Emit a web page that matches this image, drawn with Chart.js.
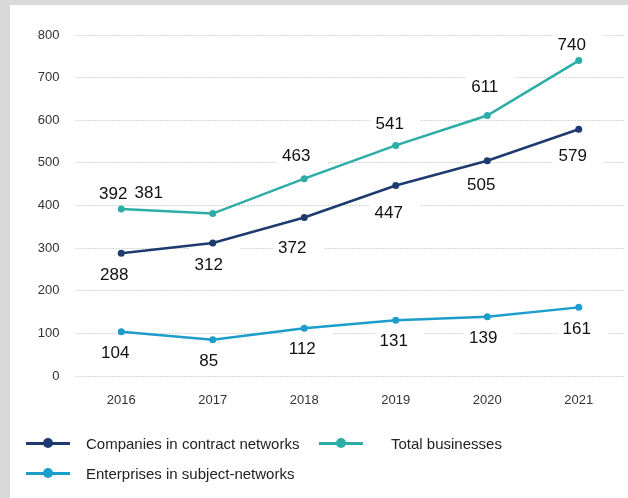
<!DOCTYPE html>
<html>
<head>
<meta charset="utf-8">
<title>Network businesses 2016-2021</title>
<script src="https://cdn.jsdelivr.net/npm/chart.js@4/dist/chart.umd.min.js"></script>
<style>
  html,body{margin:0;padding:0;background:#d9d9d9;}
  body{width:628px;height:498px;overflow:hidden;position:relative;font-family:Helvetica,Arial,"Liberation Sans",sans-serif;}
  #panel{position:absolute;left:10px;top:5px;width:618px;height:493px;background:#fff;}
  #chart{position:absolute;left:0;top:0;}
  .item{position:absolute;height:20px;display:flex;align-items:center;font-size:15px;color:#222;white-space:nowrap;}
  .swatch{position:relative;width:44px;height:20px;flex:none;}
  .swatch .ln{position:absolute;left:0;right:0;top:8.5px;height:3px;}
  .swatch .dot{position:absolute;left:17px;top:5px;width:10px;height:10px;border-radius:50%;}
</style>
</head>
<body>
<div id="panel">
  <canvas id="chart" width="618" height="493"></canvas>
  <div id="legend"></div>
</div>
<script>
// years on the x axis
const years=['2016','2017','2018','2019','2020','2021'];
// series values
const contractNetworks=[288,312,372,447,505,579];
const totalBusinesses=[392,381,463,541,611,740];
const subjectNetworks=[104,85,112,131,139,161];
// y axis ticks
const yTicks=[0,100,200,300,400,500,600,700,800];

// where each value label sits relative to its point (dx, dy)
const totalShift=[[-8,-15],[-64,-20],[-8,-22],[-6,-21],[-2.5,-28],[-7,-15]];
const contractShift=[[-7,22],[-4,22],[-12,31],[-7,28],[-6,25],[-6,27.5]];
const subjectShift=[[-6,22],[-4,22],[-2,21],[-2,21.5],[-4,21.5],[-2,22]];

const FONT='Helvetica, Arial, "Liberation Sans", sans-serif';

function series(label,data,color,shift){
  return {label,data,borderColor:color,backgroundColor:color,borderWidth:2.5,
    pointRadius:3.5,pointHoverRadius:3.5,pointBorderWidth:0,pointBackgroundColor:color,
    tension:0,fill:false,labelShift:shift};
}

// white box behind each value label (hides the grid), then the number
const valueLabels={
  id:'valueLabels',
  eachLabel(chart,fn){
    const ctx=chart.ctx;
    ctx.save();
    ctx.font='17px '+FONT;
    chart.data.datasets.forEach((ds,di)=>{
      const meta=chart.getDatasetMeta(di);
      meta.data.forEach((pt,i)=>{
        const s=ds.labelShift[i];
        const txt=String(ds.data[i]);
        fn(ctx,txt,pt.x+s[0],pt.y+s[1],ctx.measureText(txt).width);
      });
    });
    ctx.restore();
  },
  beforeDatasetsDraw(chart){
    this.eachLabel(chart,(ctx,txt,x,y,w)=>{
      ctx.fillStyle='#fff';
      ctx.fillRect(x-w/2-5,y-17,w+22,26);
    });
  },
  afterDatasetsDraw(chart){
    this.eachLabel(chart,(ctx,txt,x,y)=>{
      ctx.fillStyle='#111';
      ctx.textAlign='center';
      ctx.textBaseline='middle';
      ctx.fillText(txt,x,y);
    });
  }
};

const chart=new Chart(document.getElementById('chart'),{
  type:'line',
  data:{
    labels:years,
    datasets:[
      series('Companies in contract networks',contractNetworks,'#1d3b6f',contractShift),
      series('Total businesses',totalBusinesses,'#2cada6',totalShift),
      series('Enterprises in subject-networks',subjectNetworks,'#1d9dcb',subjectShift)
    ]
  },
  options:{
    responsive:false,
    animation:false,
    layout:{padding:{top:30,left:0,right:0,bottom:92}},
    plugins:{legend:{display:false},tooltip:{enabled:false}},
    scales:{
      x:{
        offset:true,
        grid:{display:false},
        border:{display:false},
        ticks:{color:'#333',font:{family:FONT,size:13},padding:9,maxRotation:0},
        afterFit(s){s.height=30;}
      },
      y:{
        min:yTicks[0],max:yTicks[yTicks.length-1],
        afterBuildTicks(s){s.ticks=yTicks.map(v=>({value:v}));},
        grid:{color:'#d6d6d6',lineWidth:1,drawTicks:false},
        border:{display:false,dash:[2,1]},
        ticks:{color:'#333',font:{family:FONT,size:13},padding:16},
        afterFit(s){s.width=65.5;}
      }
    }
  },
  plugins:[valueLabels]
});

// legend in two columns, built from the datasets
const legendSpots=[{x:16,y:428,gap:16},{x:309,y:428,gap:28},{x:16,y:458,gap:16}];
const legend=document.getElementById('legend');
chart.data.datasets.forEach((ds,i)=>{
  const p=legendSpots[i];
  const item=document.createElement('div');
  item.className='item';
  item.style.left=p.x+'px';
  item.style.top=p.y+'px';
  item.innerHTML=`<div class="swatch" style="margin-right:${p.gap}px"><div class="ln" style="background:${ds.borderColor}"></div><div class="dot" style="background:${ds.borderColor}"></div></div><span>${ds.label}</span>`;
  legend.appendChild(item);
});
</script>
</body>
</html>
